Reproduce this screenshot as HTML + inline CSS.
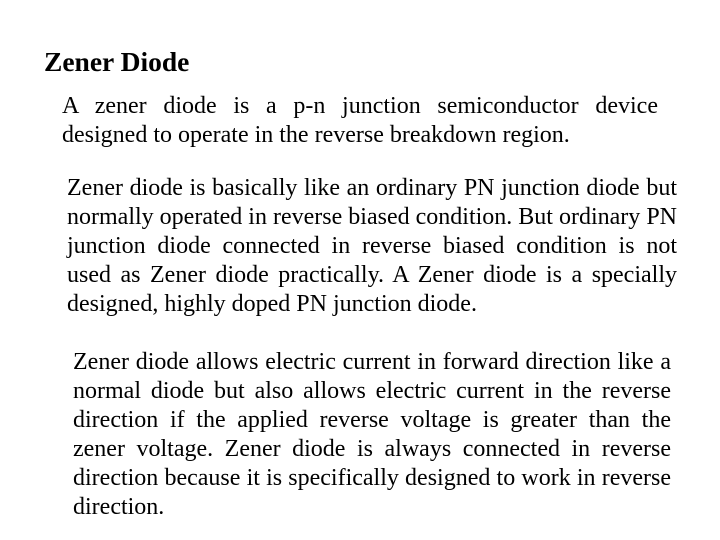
<!DOCTYPE html>
<html><head><meta charset="utf-8"><style>
body{margin:0;width:720px;height:540px;background:#fff;position:relative;overflow:hidden;font-family:"Liberation Serif",serif;color:#000}
.t{position:absolute;left:44px;top:46px;font-size:27.5px;font-weight:bold}
.p{position:absolute;font-size:24px;line-height:29px}
.p div{text-align:justify;text-align-last:justify;white-space:nowrap}
.p div.l{text-align-last:left}
</style></head><body>
<div class="t">Zener Diode</div>
<div class="p" style="left:62px;top:92px;width:596px">
<div>A zener diode is a p-n junction semiconductor device</div>
<div class="l">designed to operate in the reverse breakdown region.</div>
</div>
<div class="p" style="left:67px;top:174px;width:610px">
<div>Zener diode is basically like an ordinary PN junction diode but</div>
<div>normally operated in reverse biased condition. But ordinary PN</div>
<div>junction diode connected in reverse biased condition is not</div>
<div>used as Zener diode practically. A Zener diode is a specially</div>
<div class="l">designed, highly doped PN junction diode.</div>
</div>
<div class="p" style="left:73px;top:348px;width:598px">
<div>Zener diode allows electric current in forward direction like a</div>
<div>normal diode but also allows electric current in the reverse</div>
<div>direction if the applied reverse voltage is greater than the</div>
<div>zener voltage. Zener diode is always connected in reverse</div>
<div>direction because it is specifically designed to work in reverse</div>
<div class="l">direction.</div>
</div>
</body></html>
